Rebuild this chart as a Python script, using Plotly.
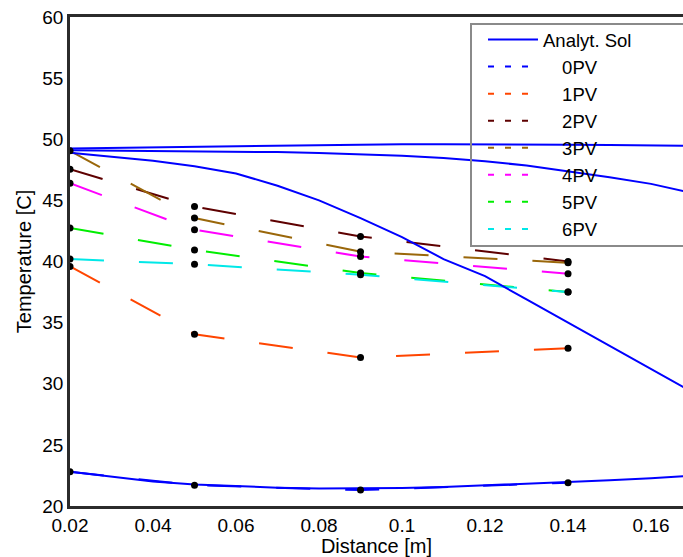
import plotly.graph_objects as go

# ---------------- data ----------------
dist_pts = [0.02, 0.05, 0.09, 0.14]

pv_labels = ["0PV", "1PV", "2PV", "3PV", "4PV", "5PV", "6PV"]
pv_colors = ["#0000ff", "#ff4500", "#5e0000", "#9a670a", "#ff00ff", "#00ee00", "#00e8e8"]
pv0 = [22.8, 21.7, 21.3, 21.9]
pv1 = [39.6, 34.05, 32.15, 32.9]
pv2 = [47.55, 44.5, 42.05, 40.0]
pv3 = [49.05, 43.55, 40.8, 39.9]
pv4 = [46.4, 42.6, 40.4, 39.0]
pv5 = [42.75, 40.95, 39.05, 37.5]
pv6 = [40.2, 39.78, 38.92, 37.5]
pv_series = [pv0, pv1, pv2, pv3, pv4, pv5, pv6]

ana_x = [0.02, 0.03, 0.04, 0.05, 0.06, 0.07, 0.08, 0.09, 0.10,
         0.11, 0.12, 0.13, 0.14, 0.15, 0.16, 0.17]
ana_a = [49.25, 49.3, 49.35, 49.4, 49.45, 49.5, 49.55, 49.57, 49.6,
         49.6, 49.6, 49.58, 49.55, 49.52, 49.49, 49.46]
ana_b = [49.1, 49.08, 49.06, 49.03, 49.0, 48.95, 48.88, 48.78, 48.65,
         48.47, 48.2, 47.85, 47.4, 46.9, 46.35, 45.6]
ana_c = [48.9, 48.55, 48.25, 47.8, 47.2, 46.2, 45.0, 43.55, 42.0,
         40.2, 38.8, 36.9, 35.0, 33.1, 31.2, 29.3]
ana_d = [22.8, 22.4, 22.0, 21.75, 21.6, 21.5, 21.43, 21.42, 21.47,
         21.55, 21.68, 21.8, 21.94, 22.1, 22.28, 22.47]
ana_curves = [ana_a, ana_b, ana_c, ana_d]

x_ticks = [0.02, 0.04, 0.06, 0.08, 0.10, 0.12, 0.14, 0.16]
x_ticktext = ["0.02", "0.04", "0.06", "0.08", "0.1", "0.12", "0.14", "0.16"]
y_ticks = [20, 25, 30, 35, 40, 45, 50, 55, 60]
y_ticktext = ["20", "25", "30", "35", "40", "45", "50", "55", "60"]

FONT = "Liberation Sans, Arial, sans-serif"
NB = "\u00a0"

fig = go.Figure()

# measured profiles (long dashes)
for lab, col, vals in zip(pv_labels, pv_colors, pv_series):
    fig.add_trace(go.Scatter(x=dist_pts, y=vals, mode="lines",
                             line=dict(color=col, width=2, dash="34px,35px"),
                             showlegend=False, hoverinfo="skip"))

# analytical solution curves
for i, yv in enumerate(ana_curves):
    fig.add_trace(go.Scatter(x=ana_x, y=yv, mode="lines",
                             line=dict(color="#0000ff", width=2),
                             name="Analyt. Sol",
                             legendgroup="ana", showlegend=(i == 0),
                             legendrank=1))

# black data-point markers
for vals in pv_series:
    fig.add_trace(go.Scatter(x=dist_pts, y=vals, mode="markers",
                             marker=dict(color="black", size=7),
                             showlegend=False, hoverinfo="skip"))

# legend entries for measured profiles (short dashes)
for k, (lab, col) in enumerate(zip(pv_labels, pv_colors)):
    fig.add_trace(go.Scatter(x=[None], y=[None], mode="lines",
                             line=dict(color=col, width=2, dash="6px,11px"),
                             name=NB * 3 + "\u2009" + lab, legendrank=2 + k))

plot_w, plot_h = 613, 489
fig.update_layout(
    width=683, height=557,
    margin=dict(l=70, r=0, t=17, b=51, autoexpand=False),
    paper_bgcolor="white", plot_bgcolor="white",
    font=dict(family=FONT, color="black"),
    showlegend=True,
    legend=dict(x=(483 - 70) / plot_w, y=1 - 4.0 / plot_h, xanchor="left", yanchor="top",
                bgcolor="rgba(0,0,0,0)", borderwidth=0,
                font=dict(family=FONT, size=18.5, color="black"),
                itemwidth=50, traceorder="normal"),
    shapes=[dict(type="rect", xref="paper", yref="paper",
                 x0=(471 - 70) / plot_w, x1=1.2,
                 y0=1 - (246 - 17) / plot_h, y1=1 - (24 - 17) / plot_h,
                 line=dict(color="#8a8a8a", width=2), layer="above")],
    xaxis=dict(range=[0.02, 0.1677], tickvals=x_ticks, ticktext=x_ticktext,
               showline=True, linecolor="#2b2b2b", linewidth=2.5, mirror=True,
               showgrid=False, zeroline=False, ticks="",
               tickfont=dict(size=19, family=FONT, color="black"),
               title=dict(text="Distance [m]", font=dict(size=20, family=FONT),
                          standoff=4)),
    yaxis=dict(range=[20, 60], tickvals=y_ticks, ticktext=y_ticktext,
               showline=True, linecolor="#2b2b2b", linewidth=2.5, mirror=False,
               showgrid=False, zeroline=False, ticks="",
               tickfont=dict(size=19, family=FONT, color="black"),
               title=dict(text="Temperature [C]", font=dict(size=20, family=FONT),
                          standoff=6)),
)

fig.write_html("out.html", config={"displayModeBar": False})

# remove the browser's default page margin so the figure sits at (0, 0)
with open("out.html", encoding="utf-8") as f:
    html = f.read()
html = html.replace("<head>", "<head><style>html,body{margin:0;padding:0;overflow:hidden;}</style>", 1)
with open("out.html", "w", encoding="utf-8") as f:
    f.write(html)
